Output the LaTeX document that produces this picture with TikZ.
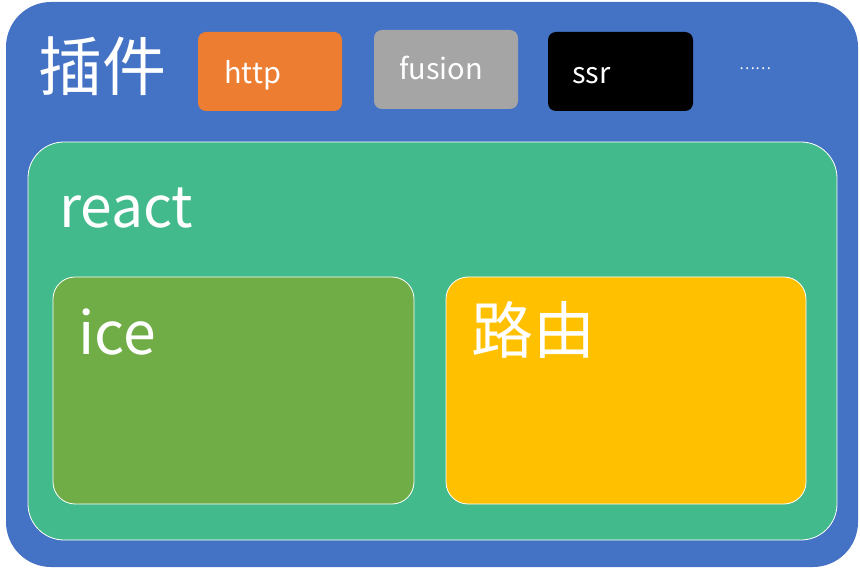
\documentclass[tikz,border=0pt]{standalone}
\usepackage{fontspec}
\setmainfont{Noto Sans CJK SC}
\usepackage{tikz}
\usetikzlibrary{positioning}

\definecolor{frameblue}{HTML}{4472C4}
\definecolor{reactgreen}{HTML}{43BA8C}
\definecolor{icegreen}{HTML}{70AD47}
\definecolor{routeyellow}{HTML}{FFC000}
\definecolor{httporange}{HTML}{ED7D31}
\definecolor{fusiongray}{HTML}{A5A5A5}

\tikzset{
	label text/.style={text=white, inner sep=0pt, anchor=base west},
	plugin box/.style={rounded corners=8pt},
	layer box/.style={draw=white, line width=0.8pt}
}

\begin{document}
\begin{tikzpicture}[x=1pt,y=-1pt]
	\useasboundingbox (0,0) rectangle (860,569);
	% Plugin Frame %
	\fill [frameblue, rounded corners=45pt] (6,2) rectangle (858,567);
	\node [label text, font=\fontsize{64}{64}\selectfont] (plugins) at (38,91) {插件};
	% Plugin Boxes %
	\fill [httporange, plugin box] (198,32) rectangle (342,111);
	\fill [fusiongray, plugin box] (374,30) rectangle (518,109);
	\fill [black, plugin box] (548,32) rectangle (693,111);
	\node [label text, font=\fontsize{29}{29}\selectfont] (http) at (224,84) {http};
	\node [label text, font=\fontsize{29}{29}\selectfont] (fusion) at (399,80) {fusion};
	\node [label text, font=\fontsize{29}{29}\selectfont] (ssr) at (572,84) {ssr};
	\node [label text, font=\fontsize{15}{15}\selectfont] (more) at (739,70) {\dots\dots};
	% React Layer %
	\filldraw [reactgreen, layer box, rounded corners=36pt] (28,142) rectangle (837,540);
	\node [label text, font=\fontsize{57}{57}\selectfont] (react) at (59,228) {react};
	% Ice and Router %
	\filldraw [icegreen, layer box, rounded corners=22pt] (53,277) rectangle (414,504);
	\filldraw [routeyellow, layer box, rounded corners=22pt] (446,277) rectangle (806,504);
	\node [label text, font=\fontsize{59}{59}\selectfont] (ice) at (78,355) {ice};
	\node [label text, font=\fontsize{62}{62}\selectfont] (router) at (471,354) {路由};
\end{tikzpicture}
\end{document}
